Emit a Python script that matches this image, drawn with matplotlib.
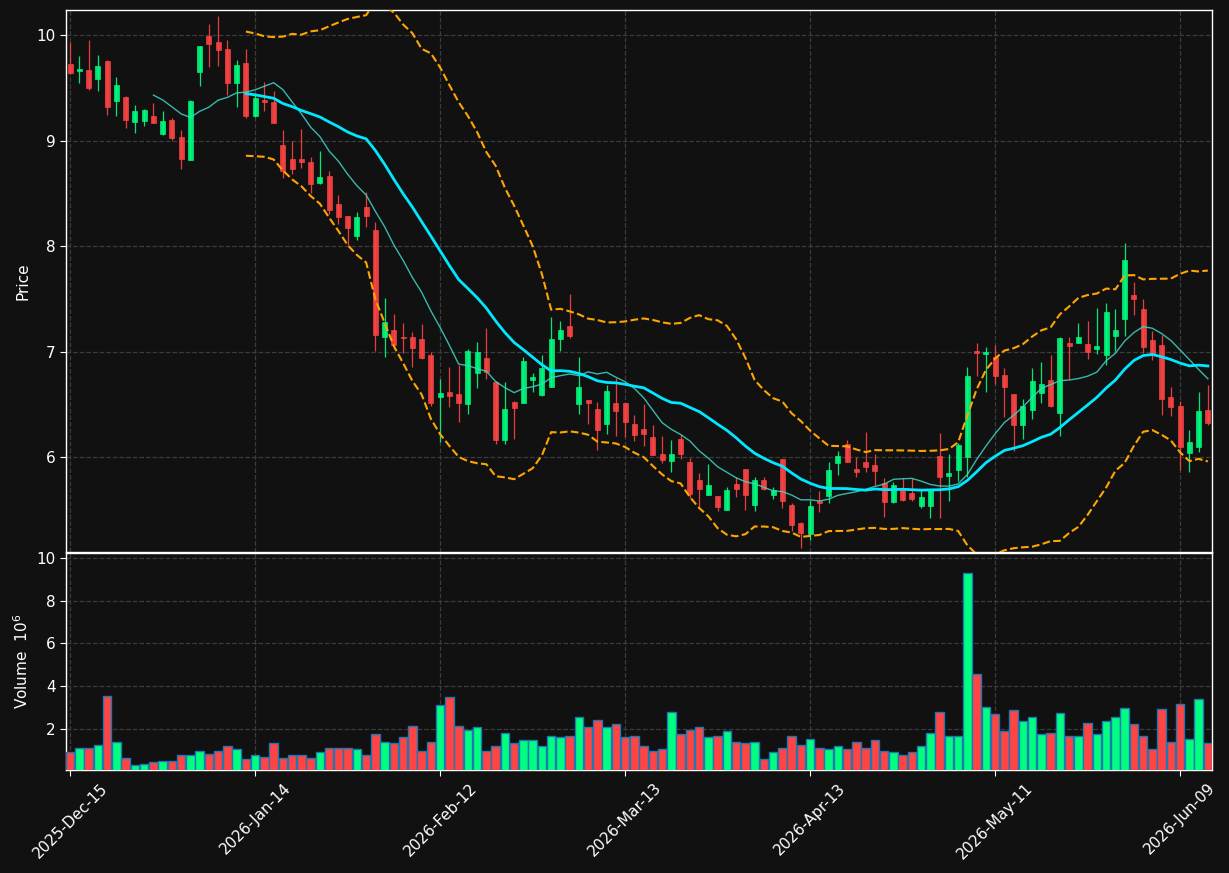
import numpy as np
import pandas as pd
import matplotlib
matplotlib.use("Agg")
import matplotlib.pyplot as plt

# trading days (NYSE calendar)
holidays = ["2025-12-25", "2026-01-01", "2026-01-19", "2026-02-16", "2026-04-03", "2026-05-25"]
dates = pd.bdate_range("2025-12-15", periods=124, freq="C", holidays=holidays)

opens = [9.725, 9.662, 9.668, 9.586, 9.754, 9.378, 9.412, 9.178, 9.188, 9.232,
         9.065, 9.194, 9.033, 8.818, 9.652, 9.990, 9.934, 9.867, 9.548, 9.735,
         9.232, 9.387, 9.368, 8.957, 8.825, 8.825, 8.797, 8.597, 8.664, 8.398,
         8.284, 8.098, 8.370, 8.152, 7.140, 7.204, 7.140, 7.137, 7.118, 6.967,
         6.572, 6.613, 6.594, 6.506, 6.799, 6.935, 6.714, 6.161, 6.521, 6.515,
         6.733, 6.591, 6.660, 7.122, 7.239, 6.506, 6.537, 6.455, 6.313, 6.509,
         6.509, 6.313, 6.265, 6.190, 6.028, 5.965, 6.171, 5.953, 5.782, 5.643,
         5.630, 5.501, 5.744, 5.886, 5.548, 5.782, 5.643, 5.981, 5.545, 5.371,
         5.267, 5.586, 5.633, 5.946, 6.120, 5.886, 5.953, 5.924, 5.757, 5.573,
         5.694, 5.659, 5.539, 5.539, 6.009, 5.823, 5.877, 6.003, 7.005, 6.981,
         6.951, 6.777, 6.597, 6.303, 6.445, 6.610, 6.730, 6.420, 7.077, 7.083,
         7.068, 7.027, 6.970, 7.150, 7.311, 7.536, 7.403, 7.109, 7.062, 6.566,
         6.483, 6.035, 6.098, 6.445]
highs = [9.930, 9.800, 9.953, 9.810, 9.760, 9.599, 9.425, 9.336, 9.300, 9.352,
         9.280, 9.210, 9.096, 9.380, 9.900, 10.100, 10.180, 9.953, 9.763, 9.864,
         9.447, 9.551, 9.472, 9.100, 8.995, 9.109, 8.840, 8.900, 8.711, 8.483,
         8.285, 8.319, 8.509, 8.224, 7.504, 7.355, 7.267, 7.182, 7.258, 6.998,
         6.736, 6.850, 6.872, 7.024, 7.090, 7.220, 6.720, 6.708, 6.530, 6.951,
         6.793, 6.967, 7.324, 7.292, 7.542, 6.951, 6.540, 6.518, 6.680, 6.752,
         6.510, 6.398, 6.499, 6.303, 6.199, 6.161, 6.209, 5.994, 5.845, 5.930,
         5.630, 5.719, 5.814, 5.886, 5.814, 5.814, 5.719, 5.981, 5.560, 5.387,
         5.592, 5.675, 5.956, 6.060, 6.161, 6.003, 6.240, 6.025, 5.798, 5.767,
         5.800, 5.798, 5.694, 5.690, 6.224, 6.025, 6.130, 6.850, 7.084, 7.040,
         7.062, 6.847, 6.600, 6.547, 6.840, 6.897, 6.967, 7.140, 7.134, 7.267,
         7.289, 7.409, 7.457, 7.400, 8.025, 7.656, 7.495, 7.197, 7.153, 6.667,
         6.534, 6.256, 6.619, 6.682]
lows = [9.627, 9.542, 9.482, 9.472, 9.242, 9.235, 9.115, 9.068, 9.141, 9.165,
        9.052, 9.005, 8.727, 8.815, 9.513, 9.700, 9.710, 9.431, 9.321, 9.216,
        9.225, 9.283, 9.163, 8.641, 8.679, 8.742, 8.506, 8.588, 8.303, 8.205,
        8.009, 8.054, 8.177, 7.008, 6.945, 7.021, 6.989, 6.850, 6.930, 6.483,
        6.145, 6.477, 6.335, 6.404, 6.657, 6.742, 6.120, 6.120, 6.167, 6.510,
        6.613, 6.580, 6.660, 7.005, 7.125, 6.404, 6.310, 6.066, 6.221, 6.199,
        6.193, 6.155, 6.104, 6.015, 5.946, 5.855, 5.978, 5.614, 5.529, 5.640,
        5.488, 5.500, 5.624, 5.495, 5.485, 5.690, 5.599, 5.513, 5.302, 5.134,
        5.213, 5.476, 5.561, 5.829, 5.950, 5.814, 5.861, 5.735, 5.434, 5.560,
        5.580, 5.580, 5.513, 5.419, 5.419, 5.585, 5.776, 5.814, 6.768, 6.613,
        6.689, 6.382, 6.057, 6.168, 6.357, 6.515, 6.477, 6.199, 6.739, 7.077,
        6.926, 6.976, 6.872, 7.008, 7.147, 7.343, 6.989, 6.919, 6.398, 6.389,
        5.877, 5.855, 6.051, 6.303]
closes = [9.643, 9.678, 9.498, 9.706, 9.321, 9.526, 9.197, 9.280, 9.289, 9.169,
          9.184, 9.027, 8.828, 9.374, 9.896, 9.918, 9.861, 9.548, 9.716, 9.235,
          9.406, 9.365, 9.166, 8.714, 8.730, 8.800, 8.588, 8.654, 8.341, 8.278,
          8.174, 8.275, 8.288, 7.156, 7.276, 7.062, 7.130, 7.036, 6.942, 6.509,
          6.605, 6.582, 6.515, 7.005, 6.995, 6.810, 6.161, 6.455, 6.468, 6.910,
          6.758, 6.840, 7.115, 7.201, 7.150, 6.660, 6.515, 6.259, 6.626, 6.439,
          6.335, 6.209, 6.221, 6.019, 5.972, 6.028, 6.028, 5.646, 5.694, 5.732,
          5.529, 5.687, 5.700, 5.643, 5.782, 5.694, 5.684, 5.586, 5.359, 5.280,
          5.536, 5.567, 5.877, 6.009, 5.956, 5.861, 5.905, 5.867, 5.573, 5.735,
          5.592, 5.602, 5.621, 5.687, 5.814, 5.845, 6.114, 6.768, 6.990, 6.997,
          6.771, 6.667, 6.303, 6.483, 6.720, 6.692, 6.483, 7.131, 7.055, 7.134,
          6.998, 7.052, 7.374, 7.204, 7.867, 7.501, 7.046, 6.976, 6.553, 6.477,
          6.098, 6.142, 6.436, 6.325]
# volume in millions
volumes = [0.91, 1.14, 1.14, 1.28, 3.53, 1.42, 0.67, 0.30, 0.39, 0.44,
           0.49, 0.49, 0.77, 0.77, 0.955, 0.86, 0.955, 1.19, 1.09, 0.58,
           0.77, 0.72, 1.33, 0.63, 0.81, 0.81, 0.63, 0.91, 1.14, 1.14,
           1.14, 1.09, 0.81, 1.75, 1.38, 1.33, 1.61, 2.125, 0.955, 1.38,
           3.11, 3.48, 2.125, 1.98, 2.08, 1.00, 1.23, 1.80, 1.33, 1.47,
           1.47, 1.23, 1.70, 1.61, 1.70, 2.55, 2.08, 2.41, 2.08, 2.22,
           1.61, 1.66, 1.23, 1.00, 1.05, 2.78, 1.75, 1.98, 2.08, 1.61,
           1.70, 1.89, 1.38, 1.33, 1.42, 0.58, 0.91, 1.14, 1.66, 1.28,
           1.56, 1.14, 1.09, 1.19, 1.09, 1.42, 1.14, 1.47, 1.00, 0.91,
           0.77, 0.91, 1.23, 1.84, 2.78, 1.70, 1.70, 9.28, 4.56, 3.01,
           2.69, 1.89, 2.87, 2.36, 2.55, 1.75, 1.84, 2.73, 1.66, 1.70,
           2.27, 1.75, 2.36, 2.55, 2.97, 2.22, 1.66, 1.09, 2.92, 1.42,
           3.15, 1.52, 3.39, 1.33]

bg = "#111111"
up_col = "#00ff80"
down_col = "#ff4444"

o = np.array(opens)
h = np.array(highs)
l = np.array(lows)
c = np.array(closes)
v = np.array(volumes)
x = np.arange(len(c))
is_up = c >= o
cols = np.where(is_up, up_col, down_col)

close_s = pd.Series(c)
ma10 = close_s.rolling(10).mean()
ma20 = close_s.rolling(20).mean()
sd20 = close_s.rolling(20).std(ddof=0)
bb_up = ma20 + 2 * sd20
bb_lo = ma20 - 2 * sd20

fig = plt.figure(figsize=(12.29, 8.73), dpi=100, facecolor=bg)
ax1 = fig.add_axes([0.0537, 0.3677, 0.9325, 0.6208], facecolor=bg)
ax2 = fig.add_axes([0.0537, 0.118, 0.9325, 0.2486], facecolor=bg, sharex=ax1)

# candles
ax1.vlines(x, l, h, colors=cols, linewidth=0.9, alpha=0.9, zorder=3)
ax1.bar(x, np.abs(c - o), bottom=np.minimum(o, c), width=0.56,
        color=cols, edgecolor=cols, linewidth=0.5, alpha=0.9, zorder=4)

ax1.plot(x, ma10, color="#3fd6c6", linewidth=1.0, alpha=0.85, zorder=5)
ax1.plot(x, ma20, color="#00e8ff", linewidth=2.0, zorder=5)
ax1.plot(x, bb_up, color="#ffa500", linewidth=1.5, linestyle="--", zorder=5)
ax1.plot(x, bb_lo, color="#ffa500", linewidth=1.5, linestyle="--", zorder=5)

# volume
ax2.bar(x, v, width=0.9, color=cols, edgecolor="#1f77b4", linewidth=1.0, zorder=3)

ax1.set_xlim(-0.45, 123.45)
ax1.set_ylim(5.10, 10.237)
ax2.set_ylim(0.09, 10.23)
ax1.set_yticks([6, 7, 8, 9, 10])
ax2.set_yticks([2, 4, 6, 8, 10])

tick_pos = list(range(0, len(x), 20))
tick_lab = [dates[i].strftime("%Y-%b-%d") for i in tick_pos]
ax2.set_xticks(tick_pos)
ax2.set_xticklabels(tick_lab, rotation=45, ha="center")
plt.setp(ax1.get_xticklabels(), visible=False)

for ax in (ax1, ax2):
    ax.grid(True, color="#3c3c3c", linestyle="--", linewidth=0.9)
    ax.set_axisbelow(True)
    for s in ax.spines.values():
        s.set_color("white")
        s.set_linewidth(1.0)
    ax.tick_params(colors="white", labelsize=11, length=4)
ax1.tick_params(axis="x", length=0)

ax1.set_ylabel("Price", color="white", fontsize=11)
ax2.set_ylabel("Volume  $10^{6}$", color="white", fontsize=11)

fig.savefig("out.png", dpi=100, facecolor=bg)
